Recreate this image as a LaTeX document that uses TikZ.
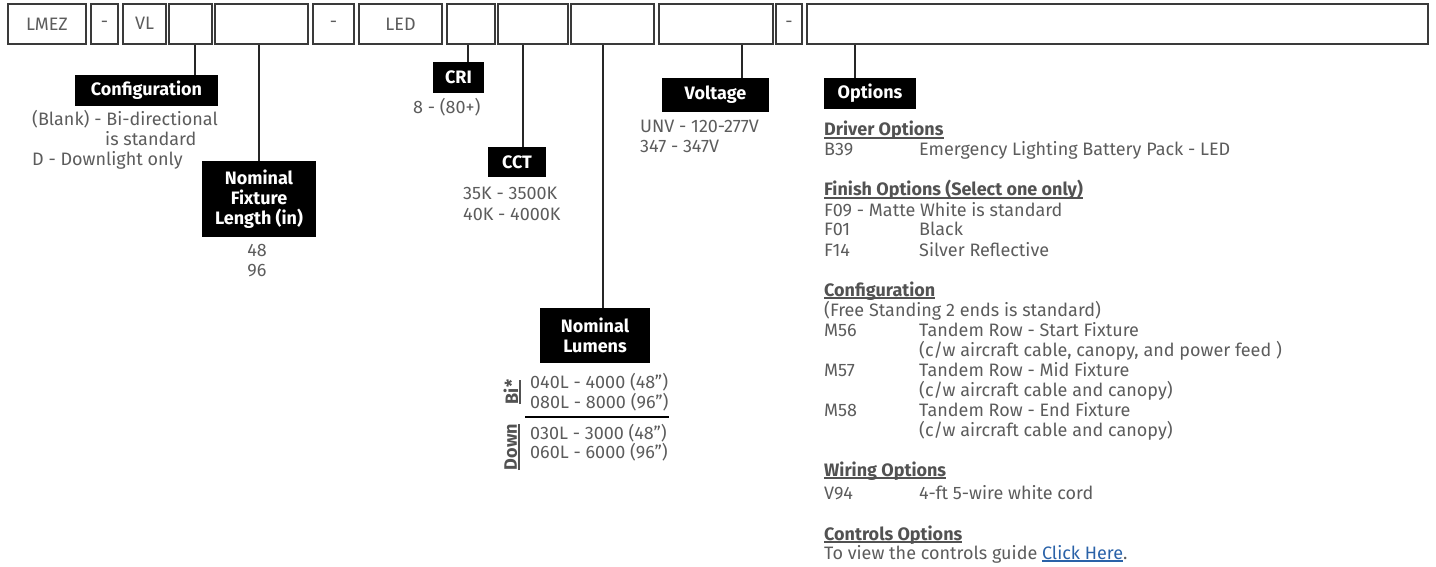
\documentclass[tikz,border=0pt]{standalone}
\usepackage{fontspec}
\setmainfont{Fira Sans}
\definecolor{txt}{HTML}{5C5C5C}
\definecolor{boxc}{HTML}{3A3A3A}
\definecolor{linkc}{HTML}{2A62A8}
\newcommand{\myul}[1]{\setbox0\hbox{#1}\rlap{\rule[-2.6pt]{\wd0}{1.3pt}}\box0}
\begin{document}
\begin{tikzpicture}[x=1pt,y=-1pt,
  every node/.style={font=\fontsize{18}{20}\selectfont, text=txt, inner sep=0pt},
  pbox/.style={draw=boxc, line width=1.4pt, minimum height=40pt, anchor=center},
  lab/.style={fill=black, text=white, font=\fontsize{18}{20}\selectfont\bfseries, align=center, anchor=center},
  conn/.style={draw=black!85, line width=1.4pt},
  row/.style={anchor=base west},
  head/.style={anchor=base west, font=\fontsize{18}{20}\selectfont\bfseries, text=black!68}]
\useasboundingbox (0,0) rectangle (1436,567);
% top code boxes
\node[pbox, minimum width=78] (b1) at (47,24) {LMEZ};
\node[pbox, minimum width=27] (b2) at (104.5,24) {-};
\node[pbox, minimum width=43] (b3) at (144.5,24) {\raisebox{1pt}{VL}};
\node[pbox, minimum width=43] (b4) at (190.5,24) {};
\node[pbox, minimum width=93] (b5) at (261.5,24) {};
\node[pbox, minimum width=41] (b6) at (333.5,24) {-};
\node[pbox, minimum width=83] (b7) at (400.5,24) {LED};
\node[pbox, minimum width=48] (b8) at (471,24) {};
\node[pbox, minimum width=70] (b9) at (533,24) {};
\node[pbox, minimum width=83] (b10) at (612.5,24) {};
\node[pbox, minimum width=114] (b11) at (716,24) {};
\node[pbox, minimum width=26] (b12) at (789,24) {-};
\node[pbox, minimum width=621] (b13) at (1117.5,24) {};
% labels
\node[lab, minimum width=143, minimum height=31] (conf) at (146.5,90.5) {Configuration};
\node[lab, minimum width=114, minimum height=76] (nfl) at (259,199) {Nominal\\Fixture\\Length (in)};
\node[lab, minimum width=51, minimum height=31] (cri) at (458.5,77.5) {CRI};
\node[lab, minimum width=58, minimum height=30] (cct) at (517,162) {CCT};
\node[lab, minimum width=110, minimum height=55] (lum) at (595,335.5) {Nominal\\Lumens};
\node[lab, minimum width=107, minimum height=34] (volt) at (715.5,95) {Voltage};
\node[lab, minimum width=92, minimum height=31] (opt) at (870,93.5) {Options};
% connectors
\draw[conn] (195,0 |- b4.south) -- (195,0 |- conf.north);
\draw[conn] (259,0 |- b5.south) -- (nfl.north);
\draw[conn] (468,0 |- b8.south) -- (468,0 |- cri.north);
\draw[conn] (523,0 |- b9.south) -- (523,0 |- cct.north);
\draw[conn] (603,0 |- b10.south) -- (603,0 |- lum.north);
\draw[conn] (742,0 |- b11.south) -- (742,0 |- volt.north);
\draw[conn] (855,0 |- b13.south) -- (855,0 |- opt.north);
% configuration values
\node[row] (cf1) at (32,126) {(Blank) - Bi-directional};
\node[row] (cf2) at (105,146) {is standard};
\node[row] (cf3) at (32,166) {D - Downlight only};
% length values
\node[anchor=base] (len1) at (257,256) {48};
\node[anchor=base] (len2) at (257,276) {96};
% CRI
\node[row] (cr1) at (413,114) {8 - (80+)};
% CCT
\node[row] (cc1) at (463,200) {35K - 3500K};
\node[row] (cc2) at (463,220) {40K - 4000K};
% voltage
\node[row] (v1) at (640,133) {UNV - 120-277V};
\node[row] (v2) at (640,153) {347 - 347V};
% lumens
\node[row] (l1) at (530,388) {040L - 4000 (48”)};
\node[row] (l2) at (530,408) {080L - 8000 (96”)};
\node[row] (l3) at (530,439) {030L - 3000 (48”)};
\node[row] (l4) at (530,458) {060L - 6000 (96”)};
\node[coordinate] (dl) at (525,417) {};
\node[coordinate] (dr) at (669,417) {};
\draw[line width=1.4pt] (dl) -- (dr);
\node[rotate=90, font=\fontsize{18}{20}\selectfont\bfseries, text=black!68] (bi) at (512,392) {\myul{Bi*}};
\node[rotate=90, font=\fontsize{18}{20}\selectfont\bfseries, text=black!68] (dn) at (512,447) {\myul{Down}};
% options
\node[head] (h1) at (824,136) {\myul{Driver Options}};
\node[row] (o1) at (824,156) {B39};
\node[row] (o1d) at (919,156) {Emergency Lighting Battery Pack - LED};
\node[head] (h2) at (824,196) {\myul{Finish Options (Select one only)}};
\node[row] (o2) at (824,216) {F09 - Matte White is standard};
\node[row] (o3) at (824,236) {F01};
\node[row] (o3d) at (919,236) {Black};
\node[row] (o4) at (824,256) {F14};
\node[row] (o4d) at (919,256) {Silver Reflective};
\node[head] (h3) at (824,296) {\myul{Configuration}};
\node[row] (o5) at (824,316) {(Free Standing 2 ends is standard)};
\node[row] (o6) at (824,336) {M56};
\node[row] (o6d) at (919,336) {Tandem Row - Start Fixture};
\node[row] (o6e) at (919,356) {(c/w aircraft cable, canopy, and power feed )};
\node[row] (o7) at (824,376) {M57};
\node[row] (o7d) at (919,376) {Tandem Row - Mid Fixture};
\node[row] (o7e) at (919,396) {(c/w aircraft cable and canopy)};
\node[row] (o8) at (824,416) {M58};
\node[row] (o8d) at (919,416) {Tandem Row - End Fixture};
\node[row] (o8e) at (919,436) {(c/w aircraft cable and canopy)};
\node[head] (h4) at (824,476) {\myul{Wiring Options}};
\node[row] (o9) at (824,499) {V94};
\node[row] (o9d) at (919,499) {4-ft 5-wire white cord};
\node[head] (h5) at (824,540) {\myul{Controls Options}};
\node[row] (o10) at (824,559) {To view the controls guide \textcolor{linkc}{\myul{Click Here}}.};
\end{tikzpicture}
\end{document}
